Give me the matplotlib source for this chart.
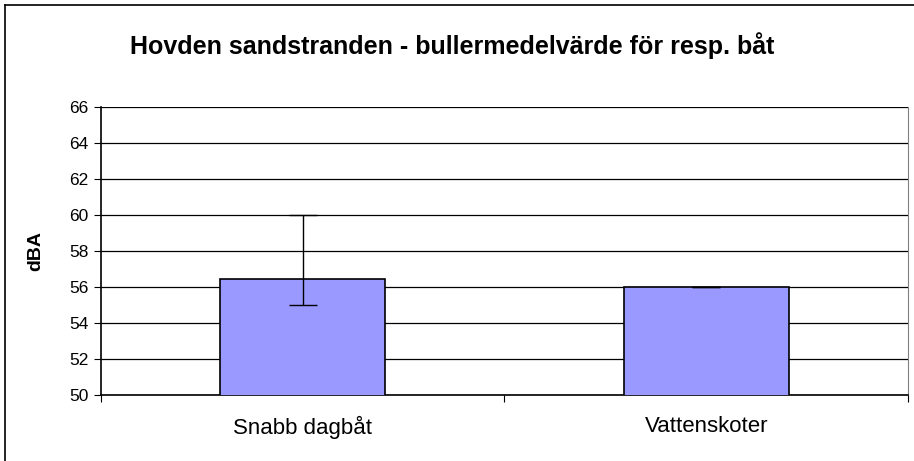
import matplotlib.pyplot as plt
from matplotlib.lines import Line2D

plt.rcParams['font.family'] = ['Liberation Sans', 'DejaVu Sans']

# Données
kategorier = ['Snabb dagbåt', 'Vattenskoter']
medel = [56.45, 56.0]
fel_under = [1.45, 0.0]
fel_over = [3.55, 0.0]
yticks = [50, 52, 54, 56, 58, 60, 62, 64, 66]

fig = plt.figure(figsize=(9.14, 4.61), dpi=100)
ax = fig.add_axes([0.1105, 0.1432, 0.8829, 0.6247])

x = range(len(kategorier))
ax.bar(x, medel, width=0.41, color='#9999FF', edgecolor='black', linewidth=1.2,
       zorder=3)
ax.errorbar(x, medel, yerr=[fel_under, fel_over], fmt='none', ecolor='black',
            elinewidth=1, capsize=10, capthick=1, zorder=4)

ax.set_ylim(50, 66)
ax.set_xlim(-0.5, 1.5)
ax.set_yticks(yticks)
ax.set_yticklabels([str(t) for t in yticks], fontsize=12.5)
ax.yaxis.grid(True, color='black', linewidth=0.9, zorder=0)

# ticks x entre les catégories, étiquettes centrées sans tick
ax.set_xticks([-0.5, 0.5, 1.5])
ax.set_xticklabels([])
ax.set_xticks(list(x), minor=True)
ax.set_xticklabels(kategorier, minor=True, fontsize=16)
ax.tick_params(axis='x', which='minor', length=0, pad=15)
ax.tick_params(axis='x', which='major', length=5, direction='out')
ax.tick_params(axis='y', length=5, direction='out', pad=4)

ax.spines['top'].set_visible(False)
ax.spines['right'].set_color('#808080')
ax.spines['left'].set_linewidth(1.2)
ax.spines['bottom'].set_linewidth(1.2)

ax.set_ylabel('dBA', fontsize=14, fontweight='bold')
ax.yaxis.set_label_coords(-0.07, 0.5)
fig.text(0.495, 0.902, 'Hovden sandstranden - bullermedelvärde för resp. båt',
         ha='center', va='center', fontsize=18, fontweight='bold')

# cadre extérieur (seulement gauche et haut visibles)
fig.add_artist(Line2D([0.0055, 0.0055], [0.0, 0.989], color='black', linewidth=1.2,
                      transform=fig.transFigure))
fig.add_artist(Line2D([0.0055, 1.0], [0.989, 0.989], color='black', linewidth=1.2,
                      transform=fig.transFigure))

plt.savefig('out.png', dpi=100)
